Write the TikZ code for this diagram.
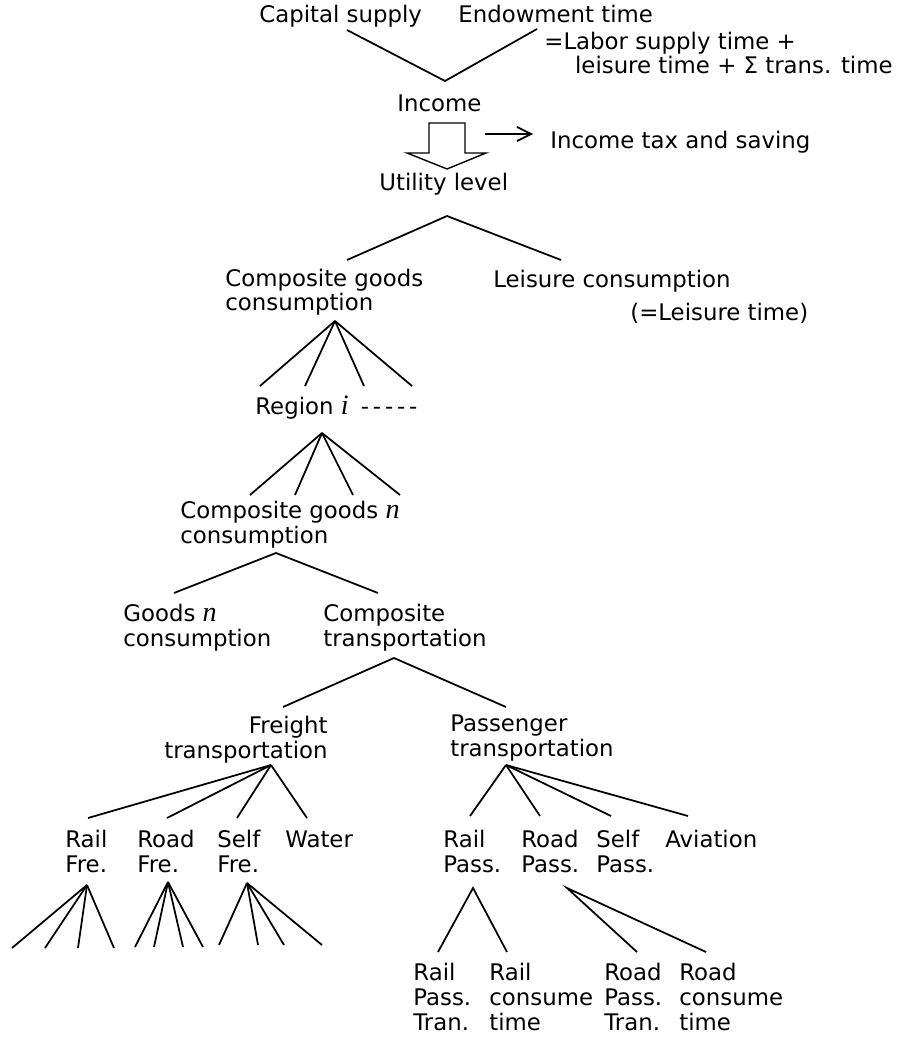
\documentclass[tikz,border=0pt]{standalone}
\usepackage{fontspec}
\setmainfont{DejaVu Sans}
\newfontfamily\varfont{Liberation Serif}
\newcommand{\vsym}[1]{{\fontsize{16}{14.2}\selectfont\varfont\itshape #1}}
\usetikzlibrary{arrows.meta}

\begin{document}
\begin{tikzpicture}[x=0.02cm,y=-0.02cm,
    lbl/.style={anchor=base west,inner sep=0pt,align=left,font=\fontsize{13}{14.2}\selectfont},
    lblr/.style={lbl,anchor=base east,align=right},
    branch/.style={line width=1pt}]
  \useasboundingbox (0,0) rectangle (922,1043);
  % top: income (multi-line nodes sit on their last baseline)
  \node[lbl] (cap) at (259,23) {Capital supply};
  \node[lbl] (endow) at (458,23) {Endowment time};
  \node[lbl] (endoweq) at (544,74) {=Labor supply time +\\\hspace*{17.5pt}leisure time + Σ trans. time};
  \node[lbl] (inc) at (397,112) {Income};
  \coordinate (cap-bot) at (347,30);
  \coordinate (endow-bot) at (537,29);
  \coordinate (inc-top) at (445,81);
  \draw[branch] (cap-bot) -- (inc-top) -- (endow-bot);
  % hollow arrow and tax
  \draw[line width=0.8pt] (429,123) -- (465,123) -- (465,153) -- (486,153)
    -- (447,169) -- (407,153) -- (429,153) -- cycle;
  \node[lbl] (tax) at (550,149) {Income tax and saving};
  \coordinate (tax-a) at (485,134);
  \coordinate (tax-b) at (533,134);
  \draw[branch,-{Straight Barb[length=8pt,width=8pt]}] (tax-a) -- (tax-b);
  % utility
  \node[lbl] (util) at (379,191) {Utility level};
  \coordinate (util-bot) at (447,216);
  \node[lbl] (cgc) at (225,311) {Composite goods\\consumption};
  \node[lbl] (leis) at (493,288) {Leisure consumption};
  \node[lbl] (leist) at (630,321) {(=Leisure time)};
  \coordinate (cgc-top) at (347,260);
  \coordinate (leis-top) at (561,260);
  \draw[branch] (cgc-top) -- (util-bot) -- (leis-top);
  % regions
  \coordinate (cgc-bot) at (335,321);
  \foreach \x [count=\k] in {260,305,364,412} {
    \coordinate (reg-top\k) at (\x,386);
    \draw[branch] (cgc-bot) -- (reg-top\k);
  }
  \node[lbl] (reg) at (255,414) {Region \vsym{i}\hspace{7pt}-\,-\,-\,-\,-};
  \coordinate (reg-bot) at (322,433);
  \foreach \x [count=\k] in {250,295,353,400} {
    \coordinate (cgn-top\k) at (\x,495);
    \draw[branch] (reg-bot) -- (cgn-top\k);
  }
  % goods n
  \node[lbl] (cgn) at (180,543) {Composite goods \vsym{n}\\consumption};
  \coordinate (cgn-bot) at (276,553);
  \node[lbl] (goods) at (123,646) {Goods \vsym{n}\\consumption};
  \node[lbl] (ctr) at (323,646) {Composite\\transportation};
  \coordinate (goods-top) at (174,593);
  \coordinate (ctr-top) at (378,593);
  \draw[branch] (goods-top) -- (cgn-bot) -- (ctr-top);
  % transportation
  \coordinate (ctr-bot) at (394,658);
  \node[lblr] (fr) at (328,758) {Freight\\transportation};
  \node[lbl] (pa) at (450,756) {Passenger\\transportation};
  \coordinate (fr-top) at (283,707);
  \coordinate (pa-top) at (506,707);
  \draw[branch] (fr-top) -- (ctr-bot) -- (pa-top);
  % freight modes
  \coordinate (fr-bot) at (271,765);
  \node[lbl] (rf) at (65,872) {Rail\\Fre.};
  \node[lbl] (rdf) at (137,872) {Road\\Fre.};
  \node[lbl] (sf) at (217,872) {Self\\Fre.};
  \node[lbl] (wat) at (285,847) {Water};
  \foreach \c/\x in {rf/88,rdf/167,sf/237,wat/307} {
    \coordinate (\c-top) at (\x,818);
    \draw[branch] (fr-bot) -- (\c-top);
  }
  \coordinate (rf-bot) at (87,885);
  \coordinate (rdf-bot) at (168,882);
  \coordinate (sf-bot) at (247,883);
  \foreach \x in {12,45,78,114} \draw[branch] (rf-bot) -- (\x,948);
  \foreach \x in {135,154,183,203} \draw[branch] (rdf-bot) -- (\x,947);
  \foreach \x in {219,258,284,322} \draw[branch] (sf-bot) -- (\x,945);
  % passenger modes
  \coordinate (pa-bot) at (506,765);
  \node[lbl] (rp) at (443,872) {Rail\\Pass.};
  \node[lbl] (rdp) at (521,872) {Road\\Pass.};
  \node[lbl] (sp) at (596,872) {Self\\Pass.};
  \node[lbl] (av) at (665,847) {Aviation};
  \foreach \c/\x in {rp/470,rdp/540,sp/611,av/688} {
    \coordinate (\c-top) at (\x,816);
    \draw[branch] (pa-bot) -- (\c-top);
  }
  % passenger time
  \coordinate (rp-bot) at (473,888);
  \coordinate (rdp-bot) at (567,888);
  \node[lbl] (rpt) at (413,1030) {Rail\\Pass.\\Tran.};
  \node[lbl] (rct) at (489,1030) {Rail\\consume\\time};
  \node[lbl] (rdpt) at (604,1030) {Road\\Pass.\\Tran.};
  \node[lbl] (rdct) at (679,1030) {Road\\consume\\time};
  \foreach \c/\x in {rpt/438,rct/507,rdpt/637,rdct/706} \coordinate (\c-top) at (\x,952);
  \draw[branch] (rpt-top) -- (rp-bot) -- (rct-top);
  \draw[branch] (rdpt-top) -- (rdp-bot) -- (rdct-top);
\end{tikzpicture}
\end{document}
